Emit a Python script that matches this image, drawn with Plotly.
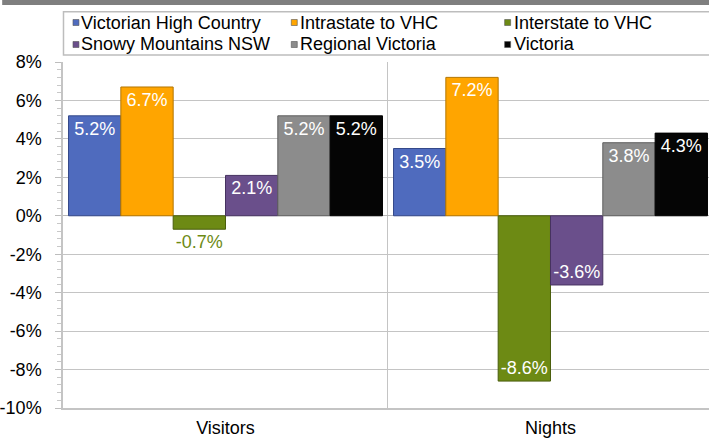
import plotly.graph_objects as go

# ---------------- data ----------------
categories = ["Visitors", "Nights"]
series_names = [
    "Victorian High Country",
    "Intrastate to VHC",
    "Interstate to VHC",
    "Snowy Mountains NSW",
    "Regional Victoria",
    "Victoria",
]
vhc = [5.2, 3.5]
intrastate = [6.7, 7.2]
interstate = [-0.7, -8.6]
snowy = [2.1, -3.6]
regional = [5.2, 3.8]
victoria = [5.2, 4.3]
series_values = [vhc, intrastate, interstate, snowy, regional, victoria]

y_tickvals = [-10, -8, -6, -4, -2, 0, 2, 4, 6, 8]
y_ticktext = [f"{v}%" for v in y_tickvals]

# ---------------- styles ----------------
colors = ["#4F6BBE", "#FFA500", "#6D8A14", "#6A4F8B", "#8C8C8C", "#050505"]
edge_colors = ["#34498A", "#B47600", "#4A5E0C", "#463260", "#5E5E5E", "#000000"]
FONT = "Liberation Sans, Arial, sans-serif"
W, H = 709, 440
ML, MR, MT, MB = 61, 0, 62, 32
PW = W - ML - MR
PH = H - MT - MB
CAT_PX = 326  # pixel width of one category band


def px_x(p):
    return (p - ML) / PW


def px_y(p):
    return (H - MB - p) / PH


fig = go.Figure()
for i, (name, vals) in enumerate(zip(series_names, series_values)):
    labels = [f"{v:.1f}%" for v in vals]
    positions = []
    for v in vals:
        # small bars cannot hold their label inside
        positions.append("outside" if abs(v) < 1.0 else "inside")
    fig.add_trace(
        go.Bar(
            x=categories,
            y=vals,
            name=name,
            marker=dict(color=colors[i], line=dict(color=edge_colors[i], width=1)),
            text=labels,
            textposition=positions,
            textangle=0,
            insidetextanchor="end",
            insidetextfont=dict(color="white", size=18, family=FONT),
            outsidetextfont=dict(color=colors[i], size=18, family=FONT),
            constraintext="none",
            cliponaxis=False,
            showlegend=False,
            hoverinfo="skip",
        )
    )

shapes = []
annotations = []

# top grey strip
shapes.append(dict(type="rect", xref="paper", yref="paper",
                   x0=px_x(0), x1=px_x(W + 5), y0=px_y(5), y1=px_y(-2),
                   fillcolor="#7F7F7F", line=dict(width=0), layer="above"))

# legend box
shapes.append(dict(type="rect", xref="paper", yref="paper",
                   x0=px_x(61.5), x1=px_x(W + 10), y0=px_y(55), y1=px_y(11.7),
                   fillcolor="white", line=dict(color="#BDBDBD", width=1.5)))

col_sq = [71, 290, 504]
col_txt = [77.5, 296.5, 511]
row_y = [22.5, 44.5]
for i, name in enumerate(series_names):
    c, r = i % 3, i // 3
    cy = row_y[r]
    shapes.append(dict(type="rect", xref="paper", yref="paper",
                       x0=px_x(col_sq[c]), x1=px_x(col_sq[c] + 6),
                       y0=px_y(cy + 3), y1=px_y(cy - 3),
                       fillcolor=colors[i], line=dict(color="#555555", width=0.6)))
    annotations.append(dict(xref="paper", yref="paper",
                            x=px_x(col_txt[c]), y=px_y(cy),
                            xanchor="left", yanchor="middle",
                            text=name, showarrow=False,
                            font=dict(size=18, color="black", family=FONT)))

fig.update_layout(
    width=W,
    height=H,
    margin=dict(l=ML, r=MR, t=MT, b=MB, pad=0),
    paper_bgcolor="white",
    plot_bgcolor="white",
    barmode="group",
    bargap=0.034,
    bargroupgap=0,
    font=dict(family=FONT, size=18, color="black"),
    shapes=shapes,
    annotations=annotations,
    showlegend=False,
)

fig.update_xaxes(
    type="category",
    range=[-0.5, -0.5 + PW / CAT_PX],
    tickson="boundaries",
    showgrid=True,
    gridcolor="#C4C4C4",
    gridwidth=1,
    ticks="",
    showline=True,
    linecolor="#C4C4C4",
    linewidth=1.5,
    ticklabelstandoff=3,
    tickfont=dict(size=18, color="black", family=FONT),
    fixedrange=True,
)

fig.update_yaxes(
    range=[-10, 8],
    tickvals=y_tickvals,
    ticktext=y_ticktext,
    showgrid=True,
    gridcolor="#C4C4C4",
    gridwidth=1,
    zeroline=True,
    zerolinecolor="#B8B8B8",
    zerolinewidth=1,
    showline=True,
    linecolor="#C4C4C4",
    linewidth=1.5,
    ticks="outside",
    ticklen=6,
    tickcolor="#BDBDBD",
    ticklabelstandoff=10,
    minor=dict(dtick=0.4, ticks="outside", ticklen=4, tickcolor="#C8C8C8", showgrid=False),
    tickfont=dict(size=18, color="black", family=FONT),
    fixedrange=True,
)

fig.write_html("out.html")
